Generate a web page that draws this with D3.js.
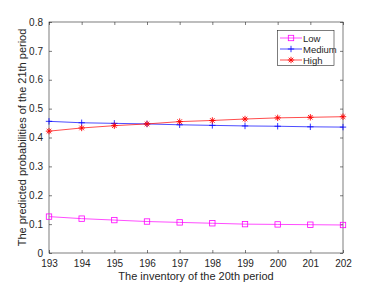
<!DOCTYPE html>
<html><head><meta charset="utf-8">
<script src="https://cdn.jsdelivr.net/npm/d3@7"></script>
<style>body{margin:0;background:#fff}svg{display:block}text{font-family:"Liberation Sans",Arial,sans-serif;fill:#262626}</style>
</head><body><svg id="c" width="379" height="285"></svg>
<script>
const inventory = [193,194,195,196,197,198,199,200,201,202];
const lowVals = [0.126,0.119,0.114,0.109,0.106,0.103,0.100,0.099,0.098,0.097];
const mediumVals = [0.456,0.451,0.449,0.447,0.444,0.442,0.440,0.439,0.437,0.436];
const highVals = [0.422,0.433,0.441,0.447,0.455,0.459,0.464,0.468,0.470,0.472];
const yTicks = [0,0.1,0.2,0.3,0.4,0.5,0.6,0.7,0.8];
const seriesNames = ["Low","Medium","High"];
const seriesColors = ["#ff00ff","#0000ff","#ff0000"];
const seriesData = [lowVals, mediumVals, highVals];
const markers = ["square","plus","star"];

const svg = d3.select("#c");
const L=49,R=343,T=22,B=253;
const x = d3.scaleLinear().domain([193,202]).range([L,R]);
const y = d3.scaleLinear().domain([0,0.8]).range([B,T]);
const ax="#262626";
const g = svg.append("g");

g.append("rect").attr("x",L).attr("y",T).attr("width",R-L).attr("height",B-T).attr("fill","none").attr("stroke",ax).attr("stroke-width",0.6);
const xa = d3.axisBottom(x).tickValues(inventory).tickFormat(d3.format("d")).tickSizeInner(-3).tickSizeOuter(0).tickPadding(7);
const xg = g.append("g").attr("transform",`translate(0,${B})`).call(xa);
const xt = d3.axisTop(x).tickValues(inventory).tickFormat("").tickSizeInner(-3).tickSizeOuter(0);
const xtg = g.append("g").attr("transform",`translate(0,${T})`).call(xt);
const ya = d3.axisLeft(y).tickValues(yTicks).tickFormat(d=>d===0?"0":d3.format(".1f")(d)).tickSizeInner(-3).tickSizeOuter(0).tickPadding(6);
const yg = g.append("g").attr("transform",`translate(${L},0)`).call(ya);
const yr = d3.axisRight(y).tickValues(yTicks).tickFormat("").tickSizeInner(-3).tickSizeOuter(0);
const yrg = g.append("g").attr("transform",`translate(${R},0)`).call(yr);
[xg,xtg,yg,yrg].forEach(s=>{s.select(".domain").remove();s.selectAll("line").attr("stroke",ax).attr("stroke-width",0.6);s.selectAll("text").attr("font-size",10).attr("fill",ax).style("font-family","Liberation Sans, Arial, sans-serif");});

svg.append("text").attr("x",(L+R)/2).attr("y",280).attr("text-anchor","middle").attr("font-size",11).text("The inventory of the 20th period");
svg.append("text").attr("transform",`translate(26,${(T+B)/2}) rotate(-90)`).attr("text-anchor","middle").attr("font-size",11).text("The predicted probabilities of the 21th period");

function drawMarker(sel, type, cx, cy, color){
  if(type==="square"){
    sel.append("rect").attr("x",cx-2.7).attr("y",cy-2.7).attr("width",5.4).attr("height",5.4).attr("fill","none").attr("stroke",color).attr("stroke-width",0.8);
  } else if(type==="plus"){
    sel.append("path").attr("d",`M${cx-3.2},${cy}H${cx+3.2}M${cx},${cy-3.2}V${cy+3.2}`).attr("stroke",color).attr("stroke-width",0.8);
  } else {
    const r=3.2,d=r*0.71;
    sel.append("path").attr("d",`M${cx-r},${cy}H${cx+r}M${cx},${cy-r}V${cy+r}M${cx-d},${cy-d}L${cx+d},${cy+d}M${cx-d},${cy+d}L${cx+d},${cy-d}`).attr("stroke",color).attr("stroke-width",0.9);
  }
}

const line = d3.line().x((d,i)=>x(inventory[i])).y(d=>y(d));
seriesData.forEach((vals,k)=>{
  const sg = svg.append("g");
  sg.append("path").datum(vals).attr("d",line).attr("fill","none").attr("stroke",seriesColors[k]).attr("stroke-width",0.7);
  vals.forEach((v,i)=>drawMarker(sg,markers[k],x(inventory[i]),y(v),seriesColors[k]));
});

const lg = svg.append("g");
lg.append("rect").attr("x",277.5).attr("y",30.5).attr("width",56.5).attr("height",35).attr("fill","#fff").attr("stroke",ax).attr("stroke-width",0.6);
seriesNames.forEach((n,k)=>{
  const cy = 38+k*11;
  lg.append("line").attr("x1",280).attr("x2",302).attr("y1",cy).attr("y2",cy).attr("stroke",seriesColors[k]).attr("stroke-width",0.7);
  drawMarker(lg,markers[k],291,cy,seriesColors[k]);
  lg.append("text").attr("x",303).attr("y",cy+3.5).attr("font-size",9.5).text(n);
});
</script></body></html>
